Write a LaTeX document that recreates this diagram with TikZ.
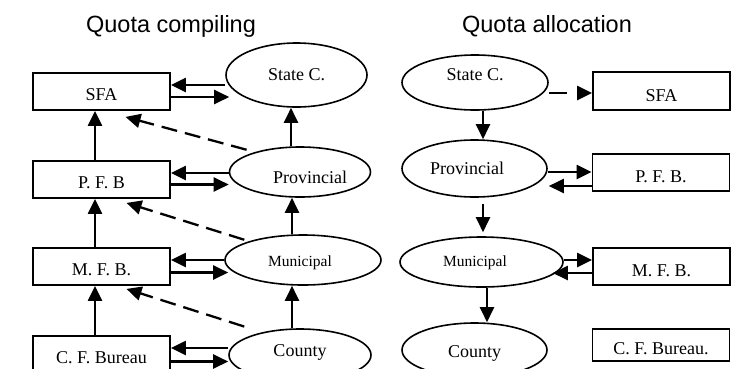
\documentclass[tikz,border=0pt]{standalone}
\usepackage{fontspec}
\setmainfont{Liberation Serif}
\newfontfamily\titlefont{Liberation Sans}
\usetikzlibrary{arrows.meta,shapes.geometric}
\begin{document}
\begin{tikzpicture}[x=1pt,y=-1pt,
  box/.style={draw, line width=1.8pt, minimum width=137pt, minimum height=37pt, inner sep=0pt, text height=18pt, text depth=0pt, font=\fontsize{18}{20}\selectfont},
  rbox/.style={box, text height=20pt},
  ell/.style={draw, ellipse, line width=1.6pt, inner sep=0pt},
  lbl/.style={font=\fontsize{18}{20}\selectfont},
  slbl/.style={font=\fontsize{15.5}{18}\selectfont},
  arr/.style={line width=2.3pt, -{Triangle[length=15pt,width=14pt]}},
  darr/.style={arr, dash pattern=on 16pt off 8pt},
  darrb/.style={arr, dash pattern=on 18pt off 10pt},
  ttl/.style={font=\titlefont\fontsize{23.5}{26}\selectfont, anchor=base}
]
\clip (0,0) rectangle (739,368);
\fill[white] (0,0) rectangle (739,368);

% titles
\node[ttl] (t1) at (171,32) {Quota compiling};
\node[ttl] (t2) at (547,32) {Quota allocation};

% left boxes
\node[box] (sfaL) at (101.5,91.5) {SFA};
\node[box] (pfbL) at (101.5,179.5) {P. F. B};
\node[box] (mfbL) at (101.5,266.5) {M. F. B.};
\node[box] (cfbL) at (101.5,354.5) {C. F. Bureau};

% left ellipses
\node[ell, minimum width=141pt, minimum height=64pt, label={[lbl]center:State C.}] (stateL) at (296.5,75) {};
\node[ell, minimum width=141pt, minimum height=50pt, label={[lbl,xshift=10pt,yshift=-5pt]center:Provincial}] (provL) at (300,172) {};
\node[ell, minimum width=156pt, minimum height=50pt, label={[slbl,xshift=-3pt,yshift=-3pt]center:Municipal}] (munL) at (303,260) {};
\node[ell, minimum width=142pt, minimum height=52pt, label={[lbl,yshift=3pt]center:County}] (countyL) at (300,355) {};

% right ellipses
\node[ell, minimum width=146pt, minimum height=55pt, label={[lbl,yshift=7.5pt]center:State C.}] (stateR) at (475,82.5) {};
\node[ell, minimum width=145pt, minimum height=57pt, label={[lbl,xshift=-7.5pt]center:Provincial}] (provR) at (474.5,168.5) {};
\node[ell, minimum width=163pt, minimum height=50pt, label={[slbl,xshift=-6.5pt,yshift=-1pt]center:Municipal}] (munR) at (481.5,262) {};
\node[ell, minimum width=145pt, minimum height=54pt, label={[lbl,yshift=-3pt]center:County}] (countyR) at (474.5,350) {};

% right boxes
\node[rbox, minimum height=38pt] (sfaR) at (661.5,91) {SFA};
\node[rbox] (pfbR) at (661,172.5) {P. F. B.};
\node[rbox] (mfbR) at (661.5,266.5) {M. F. B.};
\node[box, minimum height=32pt, label={[lbl,yshift=-4pt]center:C. F. Bureau.}] (cfbR) at (661,345) {};

% left horizontal pairs
\draw[arr] ([yshift=6.5pt]sfaL.east -| stateL.west) -- ([yshift=6.5pt]sfaL.east);
\draw[arr] ([yshift=-5.5pt]sfaL.east) -- ([yshift=-5.5pt,xshift=4pt]sfaL.east -| stateL.west);
\draw[arr] ([yshift=6.5pt]pfbL.east -| provL.west) -- ([yshift=6.5pt]pfbL.east);
\draw[arr] ([yshift=-5pt]pfbL.east) -- ([yshift=-5pt]pfbL.east -| provL.west);
\draw[arr] ([yshift=6.5pt]mfbL.east -| munL.west) -- ([yshift=6.5pt]mfbL.east);
\draw[arr] ([yshift=-6pt]mfbL.east) -- ([yshift=-6pt,xshift=4pt]mfbL.east -| munL.west);
\draw[arr] ([yshift=6.5pt]cfbL.east -| countyL.west) -- ([yshift=6.5pt]cfbL.east);
\draw[arr] ([yshift=-7pt]cfbL.east) -- ([yshift=-7pt]cfbL.east -| countyL.west);

% left verticals
\draw[arr] ([xshift=-6.5pt]pfbL.north) -- ([xshift=-6.5pt]sfaL.south);
\draw[arr] ([xshift=-6.5pt]mfbL.north) -- ([xshift=-6.5pt]pfbL.south);
\draw[arr] ([xshift=-6.5pt]cfbL.north) -- ([xshift=-6.5pt]mfbL.south);
\draw[arr] ([xshift=-9pt]provL.north) -- ([xshift=-9pt]provL.north |- stateL.south);
\draw[arr] ([xshift=-11pt]munL.north) -- ([xshift=-11pt]munL.north |- provL.south);
\draw[arr] ([xshift=-8pt]countyL.north) -- ([xshift=-8pt]countyL.north |- munL.south);

% left dashed
\draw[darr] ([xshift=-3pt,yshift=4pt]provL.north west) -- ([xshift=24pt,yshift=-6pt]sfaL.south);
\draw[darr] ([xshift=-3pt,yshift=2pt]munL.north west) -- ([xshift=25pt,yshift=-4pt]pfbL.south);
\draw[darr] ([xshift=-5pt,yshift=9.5pt]countyL.north west) -- ([xshift=25pt,yshift=-3pt]mfbL.south);

% right arrows
\draw[darrb] ([yshift=-2pt]sfaR.west -| stateR.east) -- ([yshift=-2pt]sfaR.west);
\draw[arr] ([xshift=8pt]stateR.south) -- ([xshift=8pt]stateR.south |- provR.north);
\draw[arr] ([xshift=8.5pt,yshift=-6pt]provR.south) -- ([xshift=8.5pt,yshift=4pt]provR.south |- munR.north);
\draw[arr] ([xshift=5.5pt]munR.south) -- ([xshift=5.5pt]munR.south |- countyR.north);
\draw[arr] ([yshift=0.5pt]pfbR.west -| provR.east) -- ([yshift=0.5pt]pfbR.west);
\draw[arr] ([yshift=-13.5pt]pfbR.west) -- ([yshift=-13.5pt,xshift=1pt]pfbR.west -| provR.east);
\draw[arr] ([yshift=6.5pt]mfbR.west -| munR.east) -- ([yshift=6.5pt]mfbR.west);
\draw[arr] ([yshift=-6.5pt]mfbR.west) -- ([yshift=-6.5pt,xshift=-11pt]mfbR.west -| munR.east);
\end{tikzpicture}
\end{document}
